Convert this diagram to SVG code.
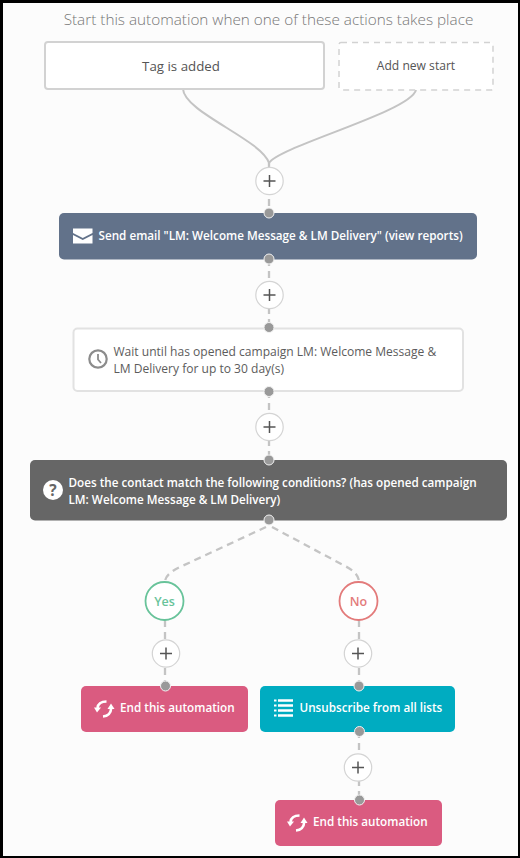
<svg xmlns="http://www.w3.org/2000/svg" width="520" height="858" viewBox="0 0 520 858">
<defs>
<g id="plus-btn"><circle r="13.7" fill="#fff" stroke="#d4d4d4" stroke-width="1.2"/><path d="M-6 0H6M0-6V6" stroke="#555" stroke-width="1.500" fill="none"/></g>
<g id="loop-icon"><path d="M2-7.500C-3-7.500-6.500-5-7-1" fill="none" stroke="#fff" stroke-width="2.600"/><path d="M-10.500-1.500L-3.500-1.500L-7.500 3.500Z" fill="#fff"/><path d="M-1.500 7.500C3.500 7 6.500 4 6.500 0" fill="none" stroke="#fff" stroke-width="2.600"/><path d="M3 0L10 0L6.500-5.500Z" fill="#fff"/></g>
</defs>
<style>
text{font-family:"Open Sans","Noto Sans","Liberation Sans",sans-serif}
.w{fill:#fff;font-size:11.700px;font-weight:600}
.d{fill:#5c5c5c;font-size:12.050px}
.conn{fill:none;stroke:#c4c4c4;stroke-width:2}
.dash{stroke-dasharray:7 5;stroke-width:2.300}
.dot{fill:#999;stroke:#f2f2f2;stroke-width:1}
</style>
<rect x="0" y="0" width="520" height="858" fill="#000"/>
<rect x="3" y="3" width="515" height="853" fill="#fcfcfc"/>
<text x="268.500" y="25" text-anchor="middle" font-size="15.300" font-weight="300" fill="#777">Start this automation when one of these actions takes place</text>
<g id="connectors">
<path class="conn" d="M183 89C184 112 262 140 269 163"/>
<path class="conn" d="M416 90C410 112 280 146 269 163"/>
<path class="conn dash" d="M269 163V213M269 259V327M269 391V460"/>
<path class="conn dash" d="M266 527L180 567Q165 574 165 582"/>
<path class="conn dash" d="M272 527L345 566Q359 573 359 582"/>
<path class="conn dash" d="M165 620V686M359 620V686M359 731V800"/>
</g>
<g id="start-tag"><rect x="45" y="42" width="279" height="47" rx="3" fill="#fff" stroke="#d2d2d2" stroke-width="2"/><text x="181" y="71" text-anchor="middle" font-size="13.300" fill="#555">Tag is added</text></g>
<g id="start-add"><rect x="339" y="42.500" width="154" height="47.500" rx="2" fill="#fff" stroke="#d2d2d2" stroke-width="1.500" stroke-dasharray="6 5"/><text x="416" y="70" text-anchor="middle" font-size="12.100" fill="#555">Add new start</text></g>
<g id="plus-1"><use href="#plus-btn" x="269.500" y="181"/></g>
<g id="send-email"><rect x="59" y="213" width="418" height="46.500" rx="5" fill="#62728a"/><path d="M73 228.500H92.500V233L82.750 238L73 233Z" fill="#fff"/><path d="M73 235L82.750 240L92.500 235V243.500H73Z" fill="#fff"/><text class="w" x="98.500" y="240">Send email "LM: Welcome Message &amp; LM Delivery" (view reports)</text></g>
<g id="plus-2"><use href="#plus-btn" x="269.500" y="295"/></g>
<g id="wait"><rect x="73.500" y="328.500" width="389.500" height="62.500" rx="4" fill="#fff" stroke="#e2e2e2" stroke-width="2"/><circle cx="98" cy="359" r="8.700" fill="none" stroke="#8c8c8c" stroke-width="2.200"/><path d="M98 354V359.500L101 363" fill="none" stroke="#8c8c8c" stroke-width="1.800"/><text class="d" x="113.500" y="356">Wait until has opened campaign LM: Welcome Message &amp;</text><text class="d" x="113.500" y="373">LM Delivery for up to 30 day(s)</text></g>
<g id="plus-3"><use href="#plus-btn" x="269.500" y="427"/></g>
<g id="condition"><rect x="30" y="460" width="477" height="60.500" rx="5" fill="#666"/><circle cx="53" cy="490" r="10" fill="#fff"/><text x="53" y="495.500" text-anchor="middle" font-size="15.500" font-weight="700" fill="#666">?</text><text class="w" x="68.500" y="487">Does the contact match the following conditions? (has opened campaign</text><text class="w" x="68.500" y="504">LM: Welcome Message &amp; LM Delivery)</text></g>
<g id="yes"><circle cx="164.500" cy="601" r="19" fill="#fff" stroke="#68c39a" stroke-width="1.800"/><text x="164.500" y="606" text-anchor="middle" font-size="12.500" font-weight="600" fill="#68c39a">Yes</text></g>
<g id="no"><circle cx="358.500" cy="601" r="19" fill="#fff" stroke="#e37b7b" stroke-width="1.800"/><text x="358.500" y="606" text-anchor="middle" font-size="12.500" font-weight="600" fill="#e37b7b">No</text></g>
<g id="plus-yes"><use href="#plus-btn" x="166" y="653.500"/></g>
<g id="plus-no"><use href="#plus-btn" x="358" y="653.500"/></g>
<g id="end-1"><rect x="81" y="686" width="167" height="46" rx="5" fill="#da5b80"/><use href="#loop-icon" x="104.500" y="709"/><text class="w" x="120" y="712">End this automation</text></g>
<g id="unsubscribe"><rect x="260" y="686" width="195" height="46" rx="5" fill="#00acc1"/><path d="M278 700.500H293M278 705.500H293M278 710.500H293M278 715.500H293" stroke="#fff" stroke-width="2.500"/><path d="M274 700.500H276.500M274 705.500H276.500M274 710.500H276.500M274 715.500H276.500" stroke="#fff" stroke-width="2.200"/><text class="w" x="299.500" y="712">Unsubscribe from all lists</text></g>
<g id="plus-4"><use href="#plus-btn" x="358" y="767.500"/></g>
<g id="end-2"><rect x="275" y="800" width="167" height="46" rx="5" fill="#da5b80"/><use href="#loop-icon" x="297.500" y="823"/><text class="w" x="313" y="826">End this automation</text></g>
<g id="ports">
<circle class="dot" cx="269" cy="213" r="5"/><circle class="dot" cx="269" cy="259" r="5"/><circle class="dot" cx="269" cy="327.500" r="5"/><circle class="dot" cx="269" cy="391.500" r="5"/><circle class="dot" cx="269" cy="460" r="5"/><circle class="dot" cx="269" cy="520" r="5"/><circle class="dot" cx="165.500" cy="686" r="5"/><circle class="dot" cx="359" cy="686" r="5"/><circle class="dot" cx="359.500" cy="731.500" r="5"/><circle class="dot" cx="359.500" cy="800" r="5"/>
</g>
</svg>
